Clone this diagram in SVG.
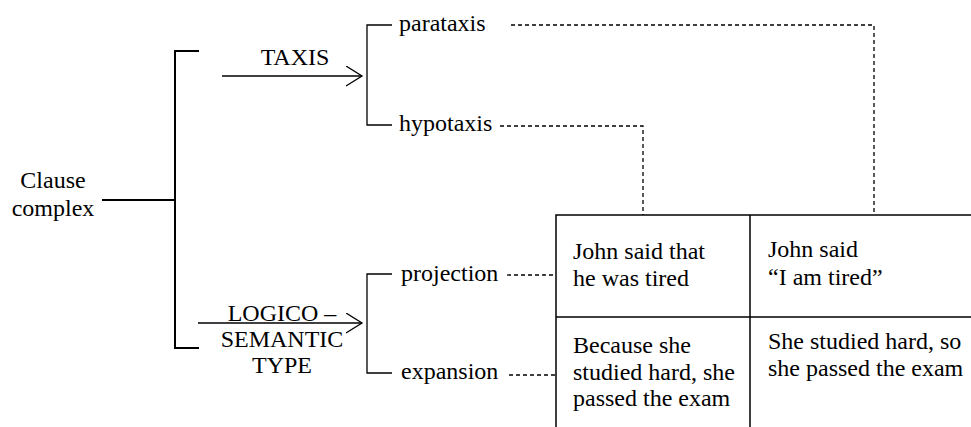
<svg xmlns="http://www.w3.org/2000/svg" width="971" height="427" viewBox="0 0 971 427">
<style>
text{font-family:"Liberation Serif","Times New Roman",serif;font-size:24px;fill:#000}
.mid{text-anchor:middle}
.thick{stroke:#000;stroke-width:2;fill:none}
.thin{stroke:#000;stroke-width:1.3;fill:none}
.dash{stroke:#000;stroke-width:1.3;fill:none;stroke-dasharray:4 3}
.tbl{stroke:#000;stroke-width:1.5;fill:none}
</style>
<defs>
<marker id="open" markerWidth="20" markerHeight="24" refX="16" refY="10" orient="auto" markerUnits="userSpaceOnUse">
<path d="M0,0 L16,10 L0,20" fill="none" stroke="#000" stroke-width="1.3"/>
</marker>
</defs>
<g id="clause-complex">
<text class="mid" x="53" y="188">Clause</text>
<text class="mid" x="53" y="216">complex</text>
</g>
<g id="taxis-label"><text class="mid" x="295" y="65">TAXIS</text></g>
<g id="logico-label">
<text class="mid" x="282" y="321">LOGICO –</text>
<text class="mid" x="282" y="347">SEMANTIC</text>
<text class="mid" x="282" y="373">TYPE</text>
</g>
<g id="parataxis"><text x="399" y="31">parataxis</text></g>
<g id="hypotaxis"><text x="399" y="131">hypotaxis</text></g>
<g id="projection"><text x="401" y="281">projection</text></g>
<g id="expansion"><text x="401" y="379">expansion</text></g>
<g id="table">
<path class="tbl" d="M556,427 V215 H971 M750,215 V427 M556,317 H971"/>
<text x="573" y="259">John said that</text>
<text x="573" y="286">he was tired</text>
<text x="768" y="257">John said</text>
<text x="768" y="285">“I am tired”</text>
<text x="573" y="353">Because she</text>
<text x="573" y="380">studied hard, she</text>
<text x="573" y="406">passed the exam</text>
<text x="768" y="349">She studied hard, so</text>
<text x="768" y="376">she passed the exam</text>
</g>
<g id="connectors">
<path class="thick" d="M102,200 H175 M199,51 H175 V348 H199"/>
<path class="thin" d="M222,76 H362" marker-end="url(#open)"/>
<path class="thin" d="M198,323 H362" marker-end="url(#open)"/>
<path class="thin" d="M392,25 H367 V125 H392"/>
<path class="thin" d="M392,274 H367 V373 H392"/>
<path class="dash" d="M511,25 H874 V215"/>
<path class="dash" d="M500,126 H643 V215"/>
<path class="dash" d="M507,275 H556"/>
<path class="dash" d="M509,375 H556"/>
</g>
</svg>
